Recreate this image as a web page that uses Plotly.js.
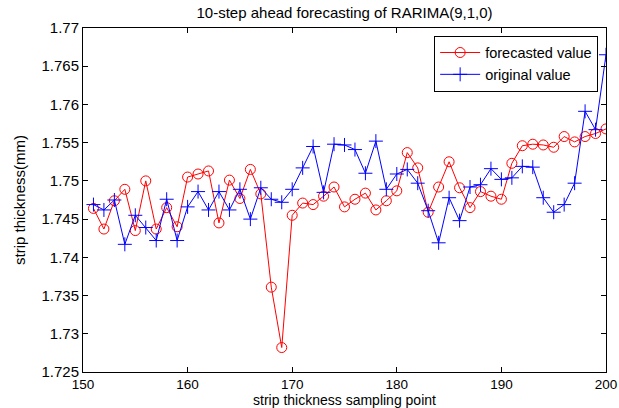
<!DOCTYPE html>
<html>
<head>
<meta charset="utf-8">
<script src="https://cdn.plot.ly/plotly-3.0.1.min.js"></script>
<style>html,body{margin:0;padding:0;background:#fff;}#chart{width:619px;height:408px;}</style>
</head>
<body>
<div id="chart"></div>
<script>
const samplePoints = [151,152,153,154,155,156,157,158,159,160,161,162,163,164,165,166,167,168,169,170,171,172,173,174,175,176,177,178,179,180,181,182,183,184,185,186,187,188,189,190,191,192,193,194,195,196,197,198,199,200];
const forecastedValue = [1.7464,1.7437,1.7474,1.7489,1.7435,1.7500,1.7437,1.7465,1.7440,1.7505,1.7509,1.7513,1.7445,1.7501,1.7477,1.7515,1.7483,1.7361,1.7282,1.7455,1.7471,1.7469,1.7480,1.7492,1.7466,1.7476,1.7484,1.7462,1.7474,1.7487,1.7537,1.7517,1.7459,1.7492,1.7525,1.7491,1.7465,1.7486,1.7480,1.7476,1.7523,1.7546,1.7548,1.7547,1.7544,1.7558,1.7551,1.7558,1.7562,1.7568];
const originalValue = [1.7469,1.7462,1.7475,1.7417,1.7455,1.7439,1.7422,1.7476,1.7422,1.7466,1.7486,1.7462,1.7486,1.7462,1.7489,1.7450,1.7491,1.7476,1.7472,1.7489,1.7517,1.7545,1.7485,1.7548,1.7547,1.7541,1.7510,1.7552,1.7489,1.7509,1.7515,1.7497,1.7461,1.7419,1.7478,1.7448,1.7492,1.7495,1.7516,1.7502,1.7504,1.7519,1.7518,1.7478,1.7459,1.7469,1.7497,1.7591,1.7567,1.7665];
const seriesNames = ['forecasted value', 'original value'];
const xTicks = [150,160,170,180,190,200];
const yTicks = [1.725,1.73,1.735,1.74,1.745,1.75,1.755,1.76,1.765,1.77];
const yTickText = ['1.725','1.73','1.735','1.74','1.745','1.75','1.755','1.76','1.765','1.77'];

const FONT = '"Liberation Sans", Arial, Helvetica, sans-serif';

const traces = [
  {
    x: samplePoints, y: forecastedValue, name: seriesNames[0],
    type: 'scatter', mode: 'lines+markers',
    line: {color: '#ff0000', width: 1},
    marker: {symbol: 'circle-open', size: 10, color: '#ff0000', line: {width: 1, color: '#ff0000'}}
  },
  {
    x: samplePoints, y: originalValue, name: seriesNames[1],
    type: 'scatter', mode: 'lines+markers',
    line: {color: '#0000ff', width: 1},
    marker: {symbol: 'cross-thin-open', size: 10, color: '#0000ff', line: {width: 1, color: '#0000ff'}}
  }
];

const axisCommon = {
  showgrid: false, zeroline: false,
  showline: true, linecolor: '#000', linewidth: 1, mirror: 'ticks',
  ticks: 'inside', ticklen: 5, tickcolor: '#000', tickwidth: 1,
  tickfont: {family: FONT, size: 15, color: '#000'}
};

const layout = {
  width: 619, height: 408,
  margin: {l: 83, r: 13, t: 28, b: 36},
  paper_bgcolor: '#fff', plot_bgcolor: '#fff',
  font: {family: FONT, size: 15, color: '#000'},
  title: {text: '10-step ahead forecasting of RARIMA(9,1,0)', font: {family: FONT, size: 15, color: '#000'},
          x: 0.5, xref: 'paper', y: 0.968, yref: 'container', yanchor: 'middle'},
  xaxis: Object.assign({}, axisCommon, {
    range: [150, 200], tickvals: xTicks,
    tickfont: {family: FONT, size: 13.5, color: '#000'},
    title: {text: 'strip thickness sampling point', font: {family: FONT, size: 14, color: '#000'}, standoff: 7}
  }),
  yaxis: Object.assign({}, axisCommon, {
    range: [1.725, 1.77], tickvals: yTicks, ticktext: yTickText,
    title: {text: 'strip thickness(mm)', font: {family: FONT, size: 15, color: '#000'}, standoff: 12}
  }),
  legend: {
    x: 0.985, xanchor: 'right', y: 0.978, yanchor: 'top',
    bgcolor: '#fff', bordercolor: '#000', borderwidth: 1,
    font: {family: FONT, size: 14.5, color: '#000'},
    itemwidth: 40,
    tracegroupgap: 0
  },
  showlegend: true
};

Plotly.newPlot('chart', traces, layout, {staticPlot: true, displayModeBar: false});
</script>
</body>
</html>
